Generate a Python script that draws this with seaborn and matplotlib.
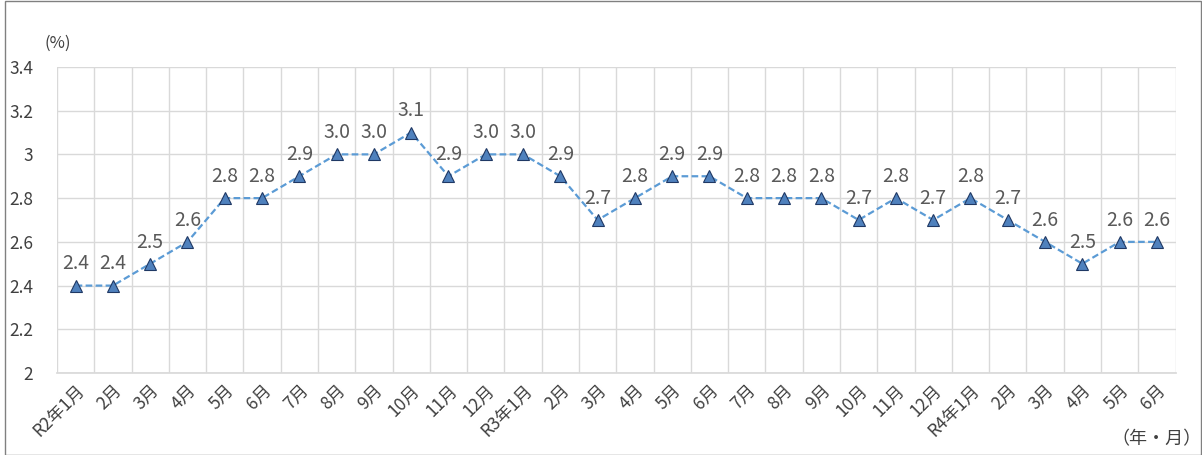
import numpy as np
import pandas as pd
import matplotlib
matplotlib.use("Agg")
import matplotlib.pyplot as plt
import seaborn as sns

months = ["R2年1月"] + [f"{m}月" for m in range(2, 13)] + \
         ["R3年1月"] + [f"{m}月" for m in range(2, 13)] + \
         ["R4年1月"] + [f"{m}月" for m in range(2, 7)]
rates = [2.4, 2.4, 2.5, 2.6, 2.8, 2.8, 2.9, 3.0, 3.0, 3.1, 2.9, 3.0,
         3.0, 2.9, 2.7, 2.8, 2.9, 2.9, 2.8, 2.8, 2.8, 2.7, 2.8, 2.7,
         2.8, 2.7, 2.6, 2.5, 2.6, 2.6]
yticks = [2, 2.2, 2.4, 2.6, 2.8, 3, 3.2, 3.4]

sns.set_theme(style="white")
plt.rcParams['font.family'] = ['Noto Sans CJK JP', 'DejaVu Sans']

TXT = "#404040"
df = pd.DataFrame({"pos": np.arange(len(months)), "rate": rates})

fig = plt.figure(figsize=(12.02, 4.55), dpi=100)
ax = fig.add_axes([0.0474, 0.180, 0.9306, 0.673])

sns.lineplot(data=df, x="pos", y="rate", ax=ax, color="#5B9BD5",
             linestyle=(0, (3, 1.5)), linewidth=1.6,
             marker="^", markersize=8, markerfacecolor="#4F81BD",
             markeredgecolor="#1F3864", markeredgewidth=0.8)

for i, v in enumerate(rates):
    ax.annotate(f"{v:.1f}", (i, v), xytext=(0, 8), textcoords="offset points",
                ha="center", va="bottom", fontsize=14, color="#595959")

n = len(months)
ax.set_xlim(-0.5, n - 0.5)
ax.set_ylim(2, 3.4)
ax.set_yticks(yticks)
ax.set_yticklabels([f"{t:g}" for t in yticks])
ax.set_xticks(np.arange(n))
ax.set_xticklabels(months, rotation=45, ha="right", rotation_mode="anchor")
ax.set_xticks(np.arange(n + 1) - 0.5, minor=True)
ax.tick_params(axis="x", which="both", length=0, labelsize=12.5, colors=TXT, pad=6)
ax.tick_params(axis="y", length=0, labelsize=12.5, colors=TXT, pad=17)
ax.grid(axis="y", color="#D9D9D9", linewidth=1)
ax.grid(axis="x", which="minor", color="#D9D9D9", linewidth=1)
ax.grid(axis="x", which="major", visible=False)
for s in ax.spines.values():
    s.set_visible(False)
ax.spines["bottom"].set_visible(True)
ax.spines["bottom"].set_color("#D9D9D9")
ax.set_xlabel("")
ax.set_ylabel("")

fig.text(0.048, 0.905, "(%)", ha="center", va="center", fontsize=12, color=TXT)
fig.text(0.962, 0.035, "（年・月）", ha="center", va="center", fontsize=13, color=TXT)

fig.patches.append(plt.Rectangle((0.004, 0.0), 0.995, 0.998, transform=fig.transFigure,
                                 fill=False, edgecolor="#808080", linewidth=1))

fig.savefig("out.png", dpi=100)
